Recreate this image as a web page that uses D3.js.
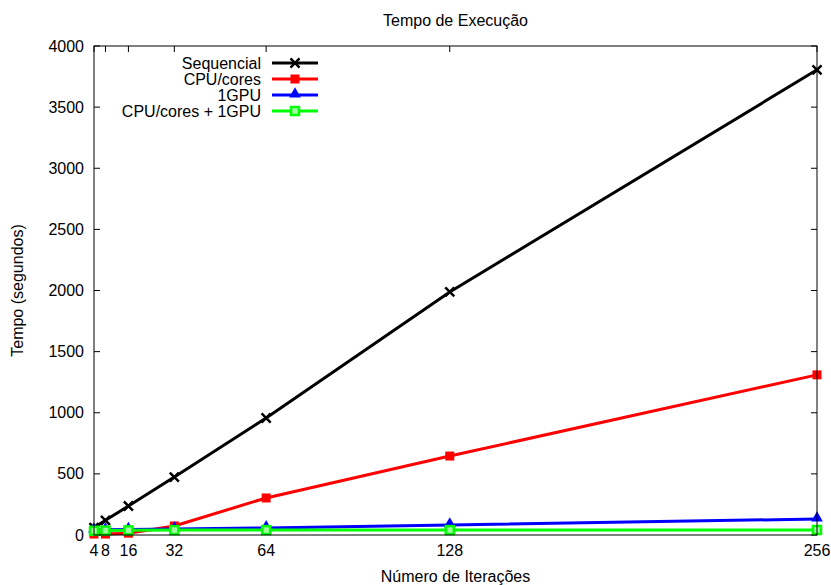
<!DOCTYPE html>
<meta charset="utf-8">
<script src="https://d3js.org/d3.v7.min.js"></script>
<style>
body { margin: 0; background: #fff; }
text { font-family: "Liberation Sans", Arial, sans-serif; font-size: 16px; fill: #000; }
</style>
<svg width="831" height="585"></svg>
<script>
var iteracoes = [4, 8, 16, 32, 64, 128, 256];
var sequencial = [60, 120, 237, 474, 957, 1988, 3805];
var cpuCores = [8, 8, 15, 74, 303, 646, 1310];
var gpu1 = [40, 42, 45, 50, 58, 82, 131];
var cpuGpu = [34, 36, 38, 40, 40, 40, 41];
var yTicks = [0, 500, 1000, 1500, 2000, 2500, 3000, 3500, 4000];

var series = [
  {name: "Sequencial", values: sequencial, color: "#000000", marker: "cross"},
  {name: "CPU/cores", values: cpuCores, color: "#ff0000", marker: "square"},
  {name: "1GPU", values: gpu1, color: "#0000ff", marker: "triangle"},
  {name: "CPU/cores + 1GPU", values: cpuGpu, color: "#00ff00", marker: "opensquare"}
];

var svg = d3.select("svg");
var mLeft = 94, mRight = 817, mTop = 46, mBottom = 535;

var x = d3.scaleLinear().domain([4, 256]).range([mLeft, mRight]);
var y = d3.scaleLinear().domain([0, 4000]).range([mBottom, mTop]);

// ticks (gnuplot style, inside and mirrored)
var tk = 6;
svg.append("g").selectAll("line").data(yTicks).join("line")
  .attr("x1", mLeft).attr("x2", mLeft + tk)
  .attr("y1", d => y(d)).attr("y2", d => y(d)).attr("stroke", "#000");
svg.append("g").selectAll("line").data(yTicks).join("line")
  .attr("x1", mRight).attr("x2", mRight - tk)
  .attr("y1", d => y(d)).attr("y2", d => y(d)).attr("stroke", "#000");
svg.append("g").selectAll("line").data(iteracoes).join("line")
  .attr("x1", d => x(d)).attr("x2", d => x(d))
  .attr("y1", mBottom).attr("y2", mBottom - tk).attr("stroke", "#000");
svg.append("g").selectAll("line").data(iteracoes).join("line")
  .attr("x1", d => x(d)).attr("x2", d => x(d))
  .attr("y1", mTop).attr("y2", mTop + tk).attr("stroke", "#000");

svg.append("g").selectAll("text").data(yTicks).join("text")
  .attr("x", mLeft - 10).attr("y", d => y(d)).attr("dy", "0.35em")
  .attr("text-anchor", "end").text(d => d);
svg.append("g").selectAll("text").data(iteracoes).join("text")
  .attr("x", d => x(d)).attr("y", mBottom + 21)
  .attr("text-anchor", "middle").text(d => d);

// lines
var line = d3.line().x((d, i) => x(iteracoes[i])).y(d => y(d));

function drawMarker(g, s, px, py) {
  if (s.marker == "cross") {
    g.append("path").attr("d", d3.symbol(d3.symbolTimes, 55)())
      .attr("transform", "translate(" + px + "," + py + ")")
      .attr("fill", "none").attr("stroke", s.color).attr("stroke-width", 2.5);
  } else if (s.marker == "opensquare") {
    g.append("rect").attr("x", px - 4).attr("y", py - 4).attr("width", 8).attr("height", 8)
      .attr("fill", "#a0ffa0").attr("stroke", s.color).attr("stroke-width", 2.5);
  } else if (s.marker == "square") {
    g.append("rect").attr("x", px - 4.5).attr("y", py - 4.5).attr("width", 9).attr("height", 9)
      .attr("fill", s.color);
  } else {
    g.append("path").attr("d", d3.symbol(d3.symbolTriangle, 60)())
      .attr("transform", "translate(" + px + "," + (py - 1) + ")")
      .attr("fill", s.color);
  }
}

series.forEach(function (s) {
  var g = svg.append("g");
  g.append("path").datum(s.values).attr("d", line)
    .attr("fill", "none").attr("stroke", s.color).attr("stroke-width", 3);
  s.values.forEach(function (v, i) { drawMarker(g, s, x(iteracoes[i]), y(v)); });
});

// frame
svg.append("rect").attr("x", mLeft).attr("y", mTop)
  .attr("width", mRight - mLeft).attr("height", mBottom - mTop)
  .attr("fill", "none").attr("stroke", "#000");

// legend
var lg = svg.append("g");
series.forEach(function (s, i) {
  var ly = 63 + i * 16;
  lg.append("text").attr("x", 261).attr("y", ly).attr("dy", "0.35em")
    .attr("text-anchor", "end").text(s.name);
  lg.append("line").attr("x1", 272).attr("x2", 318).attr("y1", ly).attr("y2", ly)
    .attr("stroke", s.color).attr("stroke-width", 3);
  drawMarker(lg, s, 295, ly);
});

// titles
svg.append("text").attr("x", (mLeft + mRight) / 2).attr("y", 26)
  .attr("text-anchor", "middle").text("Tempo de Execução");
svg.append("text").attr("x", (mLeft + mRight) / 2).attr("y", 582)
  .attr("text-anchor", "middle").text("Número de Iterações");
svg.append("text").attr("transform", "translate(23," + ((mTop + mBottom) / 2) + ") rotate(-90)")
  .attr("text-anchor", "middle").text("Tempo (segundos)");
</script>
